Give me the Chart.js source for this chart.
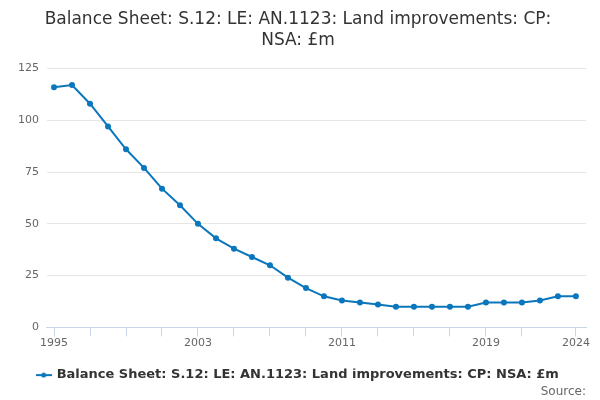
<!DOCTYPE html>
<html>
<head>
<meta charset="utf-8">
<script src="https://cdn.jsdelivr.net/npm/chart.js@4/dist/chart.umd.min.js"></script>
<style>
  html, body { margin: 0; padding: 0; background: #fff; }
  #wrap { width: 600px; height: 400px; position: relative; }
</style>
</head>
<body>
<div id="wrap"><canvas id="myChart"></canvas></div>
<script>
"use strict";
// values, £m
var years = [1995, 1996, 1997, 1998, 1999, 2000, 2001, 2002, 2003, 2004,
             2005, 2006, 2007, 2008, 2009, 2010, 2011, 2012, 2013, 2014,
             2015, 2016, 2017, 2018, 2019, 2020, 2021, 2022, 2023, 2024];
var values = [116, 117, 108, 97, 86, 77, 67, 59, 50, 43,
              38, 34, 30, 24, 19, 15, 13, 12, 11, 10,
              10, 10, 10, 10, 12, 12, 12, 13, 15, 15];
var tickYears = [1995, 1997, 1999, 2001, 2003, 2005, 2007, 2009, 2011, 2013,
                 2015, 2017, 2019, 2021, 2024];
var labelYears = [1995, 2003, 2011, 2019, 2024];
var seriesName = "Balance Sheet: S.12: LE: AN.1123: Land improvements: CP: NSA: £m";

var lineColor = "#0a77bd";
var font = "'DejaVu Sans', sans-serif";

// little line-with-dot marker for the legend
var marker = document.createElement("canvas");
marker.width = 16; marker.height = 6;
(function () {
    var c = marker.getContext("2d");
    c.strokeStyle = lineColor; c.lineWidth = 2;
    c.beginPath(); c.moveTo(0, 3); c.lineTo(16, 3); c.stroke();
    c.fillStyle = lineColor;
    c.beginPath(); c.arc(8, 3, 2.5, 0, Math.PI * 2); c.fill();
})();

var points = years.map(function (y, i) { return { x: y, y: values[i] }; });

var ctx = document.getElementById("myChart");
var myChart = new Chart(ctx, {
    type: "line",
    data: {
        datasets: [{
            label: seriesName,
            data: points,
            borderColor: lineColor,
            backgroundColor: lineColor,
            borderWidth: 2,
            pointRadius: 2,
            pointHoverRadius: 3,
            fill: false,
            tension: 0
        }]
    },
    options: {
        responsive: true,
        maintainAspectRatio: false,
        animation: false,
        layout: { padding: { left: 10, right: 14, top: 5, bottom: 1 } },
        plugins: {
            title: {
                display: true,
                text: ["Balance Sheet: S.12: LE: AN.1123: Land improvements: CP:", "NSA: £m"],
                color: "#333333",
                font: { family: font, size: 17, weight: "normal", lineHeight: 1.25 },
                padding: { top: 4, bottom: 17 }
            },
            legend: {
                position: "bottom",
                labels: {
                    usePointStyle: true,
                    color: "#333333",
                    font: { family: font, size: 13, weight: "bold" },
                    padding: 0,
                    generateLabels: function (chart) {
                        var items = Chart.defaults.plugins.legend.labels.generateLabels(chart);
                        items.forEach(function (it) { it.pointStyle = marker; });
                        return items;
                    }
                }
            },
            subtitle: {
                display: true,
                position: "bottom",
                align: "end",
                text: "Source:",
                color: "#666666",
                font: { family: font, size: 12, weight: "normal" },
                // negative top pulls the legend closer to the source line
                padding: { top: -7, bottom: 0 }
            },
            tooltip: { enabled: false }
        },
        scales: {
            x: {
                type: "linear",
                min: 1994.61,
                max: 2024.56,
                afterBuildTicks: function (axis) {
                    axis.ticks = tickYears.map(function (v) { return { value: v }; });
                },
                afterFit: function (axis) { axis.height += 19; },
                ticks: {
                    autoSkip: false,
                    maxRotation: 0,
                    color: "#666666",
                    font: { family: font, size: 11 },
                    padding: 0,
                    callback: function (v) {
                        return labelYears.indexOf(v) >= 0 ? String(v) : "";
                    }
                },
                grid: {
                    drawOnChartArea: false,
                    drawTicks: true,
                    tickLength: 9,
                    color: "#ccd6eb"
                },
                border: { color: "#ccd6eb", width: 1 }
            },
            y: {
                min: 0,
                max: 125,
                ticks: {
                    stepSize: 25,
                    color: "#666666",
                    font: { family: font, size: 11 },
                    padding: 8
                },
                grid: { color: "#e6e6e6", drawTicks: false },
                border: { display: false }
            }
        }
    }
});
</script>
</body>
</html>
